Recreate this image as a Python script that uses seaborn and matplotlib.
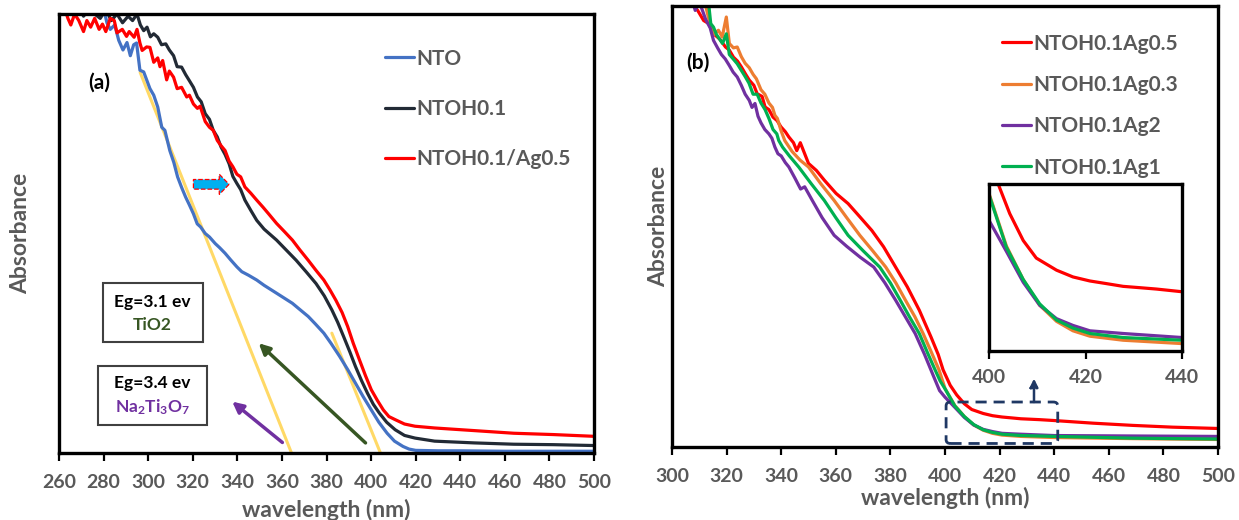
import matplotlib
matplotlib.use("Agg")
import matplotlib.pyplot as plt
import seaborn as sns
import pandas as pd
from matplotlib.patches import Rectangle, FancyArrow, FancyBboxPatch

sns.set_theme(style="white")
plt.rcParams['font.family'] = ['Lato', 'DejaVu Sans']
plt.rcParams['font.weight'] = 'bold'
plt.rcParams['mathtext.fontset'] = 'custom'
plt.rcParams['mathtext.rm'] = 'Lato:bold'
plt.rcParams['mathtext.bf'] = 'Lato:bold'
plt.rcParams['mathtext.it'] = 'Lato:bold:italic'

GRAY = '#595959'

# ---------------- panel (a) data ----------------
nto_x = [279.7, 281.5, 283.0, 285.0, 286.8, 288.7, 290.5, 292.0, 293.5, 294.8, 296.3, 298.0, 300.8, 302.5, 304.3,
         306.1, 307.5, 309.7, 311.5, 313.2, 315.0, 316.8, 318.5, 320.3, 322.0, 323.5, 325.6, 327.5, 330.1, 332.0,
         334.5, 337.0, 339.8, 342.0, 345.0, 348.7, 352.0, 357.6, 361.0, 364.7, 368.0, 371.8, 375.0, 378.8, 382.0,
         385.9, 389.5, 393.0, 396.5, 400.1, 403.5, 407.2, 410.5, 414.3, 417.0, 420.0, 430.0, 440.0, 460.0, 480.0, 500.0]
nto_y = [1.02, 0.98, 0.965, 0.975, 0.94, 0.918, 0.935, 0.905, 0.93, 0.934, 0.872, 0.868, 0.83, 0.815, 0.788,
         0.742, 0.735, 0.689, 0.662, 0.629, 0.605, 0.583, 0.565, 0.545, 0.522, 0.515, 0.500, 0.492, 0.477, 0.468,
         0.455, 0.44, 0.424, 0.413, 0.405, 0.394, 0.382, 0.364, 0.353, 0.341, 0.327, 0.311, 0.294, 0.273, 0.25,
         0.220, 0.19, 0.159, 0.128, 0.098, 0.07, 0.045, 0.027, 0.015, 0.009, 0.006, 0.005, 0.005, 0.004, 0.004, 0.004]

ntoh_x = [263, 266, 268.5, 271, 273.5, 276, 278.5, 281, 283.5, 286, 288.5, 291, 293, 295, 296.5, 298, 299.5, 301,
          302.5, 304.3, 306, 307.9, 309.5, 311.4, 313, 315.0, 316.8, 318.5, 320.3, 322.1, 323.8, 325.6, 327.5, 329.2,
          331, 332.7, 334.5, 336.3, 338, 339.8, 341.5, 343.4, 346, 348.7, 352, 357.6, 362, 366.4, 371, 375.3, 379,
          382.4, 385, 387.7, 390.5, 393.0, 395.7, 398.4, 401, 403.7, 407, 410.8, 415, 419.7, 428.5, 446.3, 464.0,
          481.7, 500]
ntoh_y = [1.03, 1.01, 1.02, 0.995, 1.01, 1.0, 0.99, 1.01, 0.985, 1.0, 0.98, 0.995, 0.985, 1.0, 0.975, 0.962, 0.97,
          0.948, 0.955, 0.947, 0.93, 0.932, 0.918, 0.905, 0.88, 0.879, 0.862, 0.848, 0.833, 0.811, 0.8, 0.773, 0.76,
          0.735, 0.72, 0.697, 0.68, 0.659, 0.63, 0.614, 0.6, 0.576, 0.553, 0.530, 0.51, 0.485, 0.462, 0.439, 0.412,
          0.386, 0.358, 0.326, 0.298, 0.265, 0.23, 0.197, 0.165, 0.136, 0.111, 0.091, 0.07, 0.053, 0.04, 0.034,
          0.027, 0.023, 0.020, 0.019, 0.017]

ntohag_x = [262, 264, 265.3, 267, 268.9, 271, 272.5, 274.2, 276, 278, 279.5, 281, 283, 284.8, 286, 288.4, 290.3,
            291.5, 293.7, 295, 296.3, 297.3, 299.3, 300.8, 302.5, 304.3, 305.3, 306.5, 308.3, 309.5, 311.4, 313,
            315.0, 317.3, 318.5, 320.3, 322.1, 323.3, 325.6, 327.5, 329.2, 331, 332.7, 334.5, 336.3, 338, 339.8,
            341.5, 343.4, 346, 348.7, 351.5, 354.0, 357.6, 361, 364.7, 368, 371.8, 375.3, 378.8, 381.5, 384.2, 387,
            389.5, 392, 394.8, 397.5, 400.1, 402.8, 405.5, 408, 410.8, 415, 419.7, 428.5, 446.3, 464.0, 481.7, 500]
ntohag_y = [1.02, 0.99, 0.975, 1.0, 0.985, 0.96, 0.985, 0.97, 0.99, 0.965, 0.977, 0.96, 0.99, 0.985, 0.957, 0.965,
            0.949, 0.96, 0.947, 0.965, 0.934, 0.917, 0.925, 0.924, 0.89, 0.9, 0.88, 0.894, 0.85, 0.87, 0.856, 0.83,
            0.833, 0.811, 0.815, 0.795, 0.785, 0.79, 0.755, 0.742, 0.735, 0.712, 0.7, 0.689, 0.665, 0.652, 0.635,
            0.629, 0.606, 0.592, 0.576, 0.56, 0.545, 0.523, 0.505, 0.485, 0.463, 0.439, 0.416, 0.394, 0.372, 0.348,
            0.32, 0.288, 0.25, 0.212, 0.176, 0.144, 0.12, 0.098, 0.083, 0.076, 0.066, 0.061, 0.057, 0.051, 0.045,
            0.042, 0.038]

# tangent (band-gap) lines: [x0, x1], [y0, y1]
tan1_x = [296.4, 364.3]
tan1_y = [0.867, 0.0]
tan2_x = [382.4, 404.2]
tan2_y = [0.273, 0.0]

# ---------------- panel (b) data ----------------
ag05_x = [306, 308, 309.4, 311.6, 313.5, 315.2, 317.5, 319.6, 321, 322.5, 324, 325.4, 327, 328.3, 330, 331.2, 333,
          334.1, 335.5, 337.0, 338.5, 339.9, 341.5, 342.8, 344.5, 345.7, 347, 348.6, 350.0, 352.9, 355.8, 360.1,
          364.5, 368.8, 373.2, 377.5, 381.9, 386.2, 390.6, 394.9, 397.5, 399.3, 401.9, 404.3, 407.1, 409.8, 414.0,
          417.4, 420.9, 424.4, 427.8, 431.3, 434.7, 440.0, 454.3, 468.8, 483.3, 500.0]
ag05_y = [1.02, 1.0, 0.99, 0.967, 0.96, 0.937, 0.925, 0.907, 0.9, 0.884, 0.875, 0.862, 0.845, 0.832, 0.82, 0.801,
          0.795, 0.771, 0.765, 0.748, 0.74, 0.726, 0.715, 0.703, 0.69, 0.672, 0.69, 0.665, 0.643, 0.627, 0.605,
          0.575, 0.552, 0.522, 0.491, 0.454, 0.408, 0.363, 0.310, 0.249, 0.21, 0.175, 0.140, 0.118, 0.098, 0.085,
          0.076, 0.071, 0.068, 0.066, 0.064, 0.063, 0.062, 0.060, 0.054, 0.049, 0.045, 0.042]

ag03_x = [311.6, 313.5, 315.2, 317, 318.4, 319.9, 321.0, 322.5, 323.9, 325.4, 326.8, 328.3, 329.7, 330.9, 332.6, 334,
          335.5, 336.8, 337.7, 338.6, 339.9, 341.3, 344.0, 347.0, 350.0, 354.5, 359.4, 364.0, 368.8, 373.5, 378.3,
          382.0, 385.5, 389.0, 392.0, 395.0, 397.8, 400.0, 403.6, 407.1, 410.5, 414.0, 417.4, 420.9, 427.8, 440.0,
          468.8, 500.0]
ag03_y = [1.02, 0.97, 0.935, 0.945, 0.93, 0.975, 0.915, 0.905, 0.907, 0.885, 0.87, 0.86, 0.845, 0.835, 0.81, 0.80,
          0.78, 0.77, 0.752, 0.745, 0.718, 0.695, 0.67, 0.65, 0.635, 0.597, 0.559, 0.52, 0.48, 0.445, 0.408, 0.372,
          0.333, 0.295, 0.257, 0.215, 0.175, 0.133, 0.094, 0.069, 0.050, 0.038, 0.031, 0.027, 0.024, 0.0215, 0.019,
          0.017]

ag2_x = [307.2, 308.5, 310, 312.3, 314, 315.2, 316.7, 318.1, 319.5, 321.0, 322.4, 323.9, 325.4, 326.8, 328.3, 329.3,
         330.4, 331.5, 332.6, 334, 335.5, 336.6, 337.7, 338.8, 340.0, 341.5, 342.8, 345.0, 347.1, 348.6, 351.4, 355.0,
         359.4, 364.0, 369.0, 373.9, 378.0, 381.9, 385.5, 389.1, 392.5, 395.5, 398, 400.0, 403.6, 407.1, 410.5,
         414.0, 417.4, 420.9, 427.8, 440.0, 468.8, 500.0]
ag2_y = [1.02, 0.99, 1.01, 0.97, 0.95, 0.922, 0.905, 0.89, 0.88, 0.865, 0.85, 0.839, 0.82, 0.80, 0.786, 0.77, 0.779,
         0.75, 0.735, 0.72, 0.71, 0.70, 0.68, 0.665, 0.66, 0.645, 0.635, 0.61, 0.585, 0.59, 0.559, 0.52, 0.48, 0.455,
         0.43, 0.408, 0.372, 0.333, 0.295, 0.257, 0.21, 0.165, 0.128, 0.113, 0.090, 0.067, 0.050, 0.040, 0.035,
         0.031, 0.029, 0.026, 0.025, 0.024]

ag1_x = [313.0, 314.2, 315.2, 316.3, 317.4, 318.5, 319.9, 321.0, 322.4, 323.9, 325.3, 326.8, 328.2, 329.7, 331.2,
         332.6, 334.1, 335.5, 337.0, 338.4, 339.1, 340.5, 343.0, 346.4, 351.0, 355.8, 360.0, 364.5, 370.0, 376.1,
         380.0, 383.6, 387.0, 390.6, 393.5, 396.0, 398.2, 400.0, 403.6, 407.1, 410.5, 414.0, 417.4, 420.9, 427.8,
         440.0, 468.8, 500.0]
ag1_y = [1.03, 0.96, 0.952, 0.935, 0.925, 0.915, 0.937, 0.89, 0.88, 0.869, 0.855, 0.84, 0.825, 0.80, 0.80, 0.78,
         0.765, 0.745, 0.72, 0.71, 0.695, 0.68, 0.66, 0.635, 0.597, 0.559, 0.52, 0.48, 0.445, 0.408, 0.372, 0.333,
         0.295, 0.257, 0.215, 0.18, 0.15, 0.132, 0.093, 0.069, 0.051, 0.039, 0.033, 0.029, 0.026, 0.024, 0.020, 0.018]

a_ticks = list(range(260, 501, 20))
b_ticks = list(range(300, 501, 20))
inset_ticks = [400, 420, 440]

series_a = [("NTO", nto_x, nto_y, '#4472C4'),
            ("NTOH0.1", ntoh_x, ntoh_y, '#222A35'),
            ("NTOH0.1/Ag0.5", ntohag_x, ntohag_y, '#FF0000')]
series_b = [("NTOH0.1Ag0.5", ag05_x, ag05_y, '#FF0000'),
            ("NTOH0.1Ag0.3", ag03_x, ag03_y, '#ED7D31'),
            ("NTOH0.1Ag2", ag2_x, ag2_y, '#7030A0'),
            ("NTOH0.1Ag1", ag1_x, ag1_y, '#00B050')]

W, H = 1239, 520
fig = plt.figure(figsize=(W / 100, H / 100), dpi=100)


def px_axes(l, t, r, b):
    return fig.add_axes([l / W, (H - b) / H, (r - l) / W, (b - t) / H])


ax1 = px_axes(59, 14, 594, 453)
ax2 = px_axes(672, 6, 1218, 447)
axi = px_axes(989, 184, 1182, 351)


def style(ax, ticks, pad=9, size=14):
    ax.set_xticks(ticks)
    ax.set_yticks([])
    for s in ax.spines.values():
        s.set_color('black')
        s.set_linewidth(2.4)
        s.set_visible(True)
    ax.tick_params(axis='x', which='both', bottom=True, direction='out', length=6, width=1.6,
                   color='black', labelsize=size, labelcolor=GRAY, pad=pad)
    for lab in ax.get_xticklabels():
        lab.set_fontweight('bold')
    ax.set_facecolor('white')


def draw(ax, series, legend=True):
    for name, xs, ys, col in series:
        df = pd.DataFrame({"wavelength": xs, "absorbance": ys})
        sns.lineplot(data=df, x="wavelength", y="absorbance", color=col, lw=2.3, sort=False,
                     estimator=None, ax=ax, label=name if legend else None, legend=False)


# ---- panel (a)
draw(ax1, series_a)
ax1.set_xlim(260, 500)
ax1.set_ylim(0, 1)
style(ax1, a_ticks)
ax1.set_xlabel("wavelength (nm)", fontsize=16.5, color=GRAY, fontweight='bold')
ax1.xaxis.set_label_coords(0.5, -0.105)
ax1.set_ylabel("Absorbance", fontsize=16.5, color=GRAY, fontweight='bold')
ax1.yaxis.set_label_coords(-0.052, 0.5)
ax1.legend(loc='upper left', bbox_to_anchor=(0.609, 0.921), frameon=False,
           handlelength=1.4, handletextpad=0.1, labelspacing=1.45, borderpad=0, borderaxespad=0,
           labelcolor=GRAY, prop={'weight': 'bold', 'size': 15})

ax1.plot(tan1_x, tan1_y, color='#FFD966', lw=2.2, zorder=1)
ax1.plot(tan2_x, tan2_y, color='#FFD966', lw=2.2, zorder=1)

ax1.add_patch(FancyArrow(320.3, 0.612, 16.0, 0.0, width=0.022, head_width=0.046, head_length=4.4,
                         length_includes_head=True, fc='#00B0F0', ec='#FF0000', ls='--', lw=0.9, zorder=5))
ax1.annotate('', xy=(349.6, 0.25), xytext=(397.5, 0.023),
             arrowprops=dict(arrowstyle='-|>', color='#375623', lw=2.5, mutation_scale=16, shrinkA=0, shrinkB=0))
ax1.annotate('', xy=(337.7, 0.117), xytext=(360.2, 0.024),
             arrowprops=dict(arrowstyle='-|>', color='#7030A0', lw=2.5, mutation_scale=16, shrinkA=0, shrinkB=0))

for (x0, y0, x1, y1) in [(0.0817, 0.2522, 0.2686, 0.3866), (0.0723, 0.0645, 0.2766, 0.1982)]:
    ax1.add_patch(Rectangle((x0, y0), x1 - x0, y1 - y0, transform=ax1.transAxes, fill=True,
                            fc='white', ec='#404040', lw=1.5, zorder=4))
ax1.text(0.175, 0.3447, "Eg=3.1 ev", transform=ax1.transAxes, ha='center', va='center',
         fontsize=12.5, color='black', fontweight='bold', zorder=6)
ax1.text(0.175, 0.2916, "TiO2", transform=ax1.transAxes, ha='center', va='center',
         fontsize=12.5, color='#375623', fontweight='bold', zorder=6)
ax1.text(0.1745, 0.1588, "Eg=3.4 ev", transform=ax1.transAxes, ha='center', va='center',
         fontsize=12.5, color='black', fontweight='bold', zorder=6)
ax1.text(0.1745, 0.1055, r"Na$_{2}$Ti$_{3}$O$_{7}$", transform=ax1.transAxes, ha='center', va='center',
         fontsize=12.5, color='#7030A0', fontweight='bold', zorder=6)
ax1.text(0.0748, 0.844, "(a)", transform=ax1.transAxes, ha='center', va='center',
         fontsize=15, color='black', fontweight='bold')

# ---- panel (b)
draw(ax2, series_b)
ax2.set_xlim(300, 500)
ax2.set_ylim(0, 1)
style(ax2, b_ticks)
ax2.set_xlabel("wavelength (nm)", fontsize=16.5, color=GRAY, fontweight='bold')
ax2.xaxis.set_label_coords(0.5, -0.09)
ax2.set_ylabel("Absorbance", fontsize=16.5, color=GRAY, fontweight='bold')
ax2.yaxis.set_label_coords(-0.006, 0.5)
ax2.legend(loc='upper left', bbox_to_anchor=(0.604, 0.937), frameon=False,
           handlelength=1.4, handletextpad=0.1, labelspacing=1.02, borderpad=0, borderaxespad=0,
           labelcolor=GRAY, prop={'weight': 'bold', 'size': 15})
ax2.text(0.047, 0.871, "(b)", transform=ax2.transAxes, ha='center', va='center',
         fontsize=15, color='black', fontweight='bold')

ax2.add_patch(FancyBboxPatch((400.4, 0.008), 40.9, 0.094,
                             boxstyle="round,pad=0,rounding_size=1.6", mutation_aspect=0.0055,
                             fill=False, ec='#1F3864', lw=2.0, ls=(0, (4, 2.5)), zorder=6))
ax2.annotate('', xy=(432.6, 0.155), xytext=(432.6, 0.102),
             arrowprops=dict(arrowstyle='-|>', color='#1F3864', lw=1.8, ls='-.', mutation_scale=12,
                             shrinkA=0, shrinkB=0), zorder=6)

# ---- inset
draw(axi, series_b, legend=False)
axi.set_xlim(400, 440)
axi.set_ylim(0.016, 0.14)
style(axi, inset_ticks, pad=7)
axi.set_xlabel("")
axi.set_ylabel("")

fig.savefig("out.png", dpi=100, facecolor='white')
